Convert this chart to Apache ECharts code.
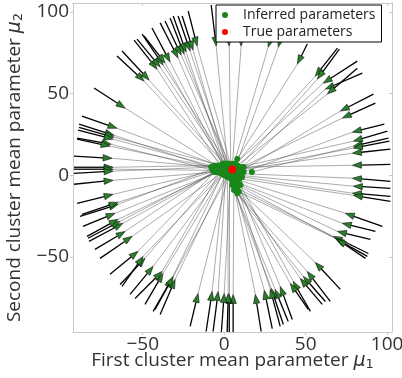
<!DOCTYPE html>
<html>
<head>
<meta charset="utf-8">
<script src="https://cdn.jsdelivr.net/npm/echarts@6/dist/echarts.min.js"></script>
<style>
  html, body { margin: 0; padding: 0; background: #fff; }
  #chart { width: 402px; height: 378px; }
</style>
</head>
<body>
<div id="chart"></div>
<script>
// starting points of the optimisation runs (tail of each black arrow)
var tails = [
  [-79.9, 53.4], [-87.3, 36.2], [-89.1, 31.3], [-89.1, 29.4], [-89.7, 27.6], [-90.3, 22.7], [-90.3, 22.1],
  [-92.2, 11.7], [-92.2, 4.9], [-92.2, 3.7], [-92.2, 1.2], [-92.2, -5.5],
  [-65.8, 73.0], [-62.7, 76.1], [-55.3, 82.8], [-53.5, 83.4], [-50.4, 86.5], [-49.2, 85.3], [-44.3, 90.2],
  [-39.3, 93.3], [-36.3, 94.5], [-33.2, 96.3], [-31.3, 97.5], [-28.3, 97.5], [-25.8, 97.5], [-22.1, 100.6],
  [-8.0, 104.3], [1.2, 104.3], [9.8, 104.3], [35.6, 104.3], [40.6, 104.3],
  [51.0, 80.4], [69.5, 77.9], [70.7, 77.3], [81.7, 69.9], [84.8, 62.6], [81.7, 65.6],
  [91.6, 49.7], [92.8, 44.2], [98.3, 31.3], [100.2, 27.0], [100.8, 22.7], [101.4, 20.9], [102.0, 16.0],
  [102.0, 6.7], [102.0, -3.7], [102.0, -8.0], [102.0, -12.9], [102.0, -16.0],
  [97.1, -31.3], [92.8, -34.4], [89.7, -39.3], [88.5, -47.9], [87.9, -49.7], [86.7, -50.9],
  [71.3, -69.9], [65.1, -77.3], [62.1, -77.3], [60.2, -79.1], [52.9, -83.4], [51.6, -82.2],
  [41.8, -88.3], [39.3, -89.6], [36.3, -91.4], [34.4, -92.6], [29.5, -93.9], [22.7, -95.7],
  [5.5, -96.9], [3.1, -96.9], [1.8, -96.9], [-1.8, -96.9], [-6.8, -95.7], [-11.1, -95.7],
  [-20.9, -92.6], [-39.3, -85.3], [-43.6, -83.4], [-42.4, -82.2], [-48.6, -79.1], [-54.7, -75.5],
  [-57.8, -73.0], [-63.9, -66.9], [-62.7, -68.1], [-70.1, -60.7], [-76.2, -50.9], [-79.3, -45.4],
  [-83.0, -40.5], [-83.6, -38.6], [-84.2, -37.4], [-86.7, -31.3], [-88.5, -25.2], [-87.3, -23.9], [-90.3, -17.2]
];

// where each arrow ends after the first step
var tips = [
  [-60.8, 41.1], [-65.8, 28.8], [-67.6, 24.5], [-67.6, 23.3], [-68.2, 22.1], [-69.4, 19.0], [-70.1, 17.8],
  [-68.8, 10.4], [-68.2, 4.9], [-68.2, 3.7], [-68.2, 2.5], [-68.2, -3.1],
  [-49.2, 57.7], [-46.1, 58.3], [-41.2, 65.0], [-39.3, 66.3], [-37.5, 67.5], [-36.3, 68.7], [-33.2, 69.3],
  [-28.3, 71.8], [-26.4, 73.6], [-24.6, 74.2], [-23.4, 75.5], [-20.9, 76.1], [-19.1, 76.7], [-16.6, 79.1],
  [-4.9, 79.1], [3.1, 79.1], [10.4, 79.1], [27.0, 78.5], [33.2, 78.5],
  [44.9, 68.1], [55.9, 60.7], [57.2, 58.9], [60.8, 56.4], [62.1, 52.8], [63.3, 49.7],
  [71.3, 39.3], [72.5, 35.0], [78.7, 26.4], [79.3, 20.9], [79.3, 17.8], [79.3, 16.6], [78.7, 13.5],
  [78.7, 6.1], [78.7, -1.8], [79.3, -6.7], [78.7, -11.0], [79.3, -12.3],
  [74.4, -23.3], [72.5, -29.4], [69.5, -34.4], [67.0, -37.4], [68.2, -38.7], [69.5, -39.3],
  [55.9, -53.4], [51.0, -58.9], [48.6, -62.0], [46.7, -63.2], [42.4, -65.0], [40.6, -66.3],
  [34.4, -68.1], [31.3, -69.9], [28.9, -69.3], [28.3, -69.9], [24.6, -70.5], [19.1, -73.0],
  [5.5, -73.0], [3.1, -73.0], [2.5, -72.4], [0, -72.4], [-3.7, -71.2], [-7.4, -71.2],
  [-16.0, -72.4], [-30.1, -63.8], [-32.0, -63.2], [-31.3, -62.0], [-37.5, -60.1], [-38.1, -58.9],
  [-43.6, -55.8], [-48.6, -50.9], [-49.8, -49.7], [-52.9, -46.6], [-56.5, -37.4], [-60.8, -34.4],
  [-62.1, -29.4], [-63.9, -28.2], [-65.1, -27.0], [-67.0, -23.3], [-65.1, -17.8], [-65.1, -16.6], [-68.2, -11.7]
];

// inferred parameters (final point of each run)
var inferred = [
  [-3, 5], [-4, 6], [-6, 4], [-2, 6], [-5, 5], [-7, 3], [-3, 4], [-8, 5], [-6, 6], [-4, 3], [-7, 5], [-5, 2],
  [-1, 6], [0, 7], [-2, 5], [1, 6], [2, 7], [0, 5], [-1, 7], [1, 4], [3, 7], [2, 6], [0, 7], [3, 5], [1, 7], [4, 6],
  [2, 7], [4, 7], [5, 6], [6, 7], [7, 5], [8, 10], [6, 6], [9, 5], [7, 7], [10, 4], [8, 6], [11, 3],
  [9, 4], [12, 2], [10, 5], [17, 2], [11, 4], [8, 3], [12, 5], [10, 1], [9, 0], [11, -1], [8, -2],
  [9, -3], [7, -4], [10, -6], [8, -8], [9, -10], [6, -5], [7, -7], [8, -11], [6, -9], [5, -3], [7, -1], [4, -2],
  [6, 0], [5, -6], [3, -1], [7, -4], [4, 1], [5, -2], [6, 2], [3, 0], [2, 1], [4, 3], [1, 2], [0, 0],
  [3, 2], [1, 0], [-1, 1], [2, -1], [0, 2], [-2, 3], [-1, 1], [-3, 2], [1, 3], [-4, 4], [-2, 1], [-5, 3],
  [-3, 3], [-6, 2], [0, 4], [-4, 2], [-7, 4], [-2, 4], [-6, 3]
];

var truth = [[5, 3.5]];

var xTicks = [-50, 0, 50, 100];
var yTicks = [-50, 0, 50, 100];

var arrowRows = tails.map(function (t, i) {
  return [t[0], t[1], tips[i][0], tips[i][1]];
});
var pathLines = tips.map(function (p, i) {
  return { coords: [p, inferred[i]] };
});

function renderArrow(params, api) {
  var p0 = api.coord([api.value(0), api.value(1)]);
  var p1 = api.coord([api.value(2), api.value(3)]);
  var dx = p1[0] - p0[0];
  var dy = p1[1] - p0[1];
  var len = Math.sqrt(dx * dx + dy * dy) || 1;
  var ux = dx / len;
  var uy = dy / len;
  var hl = 9, hw = 3.2;
  var bx = p1[0] - ux * hl;
  var by = p1[1] - uy * hl;
  return {
    type: 'group',
    children: [
      {
        type: 'line',
        shape: { x1: p0[0], y1: p0[1], x2: bx, y2: by },
        style: { stroke: '#000', lineWidth: 1.3 }
      },
      {
        type: 'polygon',
        shape: { points: [[p1[0], p1[1]], [bx - uy * hw, by + ux * hw], [bx + uy * hw, by - ux * hw]] },
        style: { fill: '#2a7f2a', stroke: '#0a0a0a', lineWidth: 0.6 }
      }
    ]
  };
}

var axisColor = '#c8c8c8';
var nameStyle = {
  fontSize: 19,
  color: '#333',
  fontFamily: 'Open Sans',
  rich: {
    m: { fontSize: 19, fontStyle: 'italic', fontFamily: 'DejaVu Sans', color: '#333' },
    s: { fontSize: 13, padding: [7, 0, 0, 0], verticalAlign: 'top', fontFamily: 'DejaVu Sans', color: '#333' }
  }
};

function makeAxis(extra) {
  var base = {
    type: 'value',
    axisLine: { show: true, onZero: false, lineStyle: { color: axisColor, width: 1 } },
    axisTick: { show: true, length: 3, lineStyle: { color: axisColor } },
    splitLine: { show: false },
    axisLabel: { show: false }
  };
  return Object.assign(base, extra);
}

var chart = echarts.init(document.getElementById('chart'));
chart.setOption({
  animation: false,
  textStyle: { fontFamily: 'Open Sans' },
  grid: { left: 73, right: 10, top: 3, bottom: 46, outerBoundsMode: 'none', containLabel: false },
  legend: {
    data: ['Inferred parameters', 'True parameters'],
    orient: 'vertical',
    left: 216,
    top: 5,
    padding: [3, 6, 3, 6],
    itemGap: 3,
    itemWidth: 26,
    itemHeight: 6,
    backgroundColor: '#fff',
    borderColor: '#000',
    borderWidth: 1,
    borderRadius: 0,
    textStyle: { fontSize: 14, color: '#222', fontFamily: 'Open Sans', padding: [0, 4, 0, 0] }
  },
  xAxis: [
    makeAxis({
      min: -92.8, max: 103, position: 'bottom',
      name: 'First cluster mean parameter {m|μ}{s|1}',
      nameLocation: 'middle', nameGap: 19, nameMoveOverlap: false, nameTextStyle: nameStyle,
      axisTick: { show: true, length: 3, customValues: xTicks, lineStyle: { color: axisColor } },
      axisLabel: { show: true, customValues: xTicks, fontSize: 19, color: '#333', margin: 3,
        formatter: function (v) { return v < 0 ? '\u2212' + Math.abs(v) : String(v); } }
    }),
    makeAxis({
      min: -92.8, max: 103, position: 'top',
      axisTick: { show: true, inside: true, length: 3, customValues: xTicks, lineStyle: { color: axisColor } }
    })
  ],
  yAxis: [
    makeAxis({
      min: -96, max: 105.5, position: 'left',
      name: 'Second cluster mean parameter {m|μ}{s|2}',
      nameLocation: 'middle', nameGap: 48, nameMoveOverlap: false, nameTextStyle: nameStyle,
      axisTick: { show: true, length: 3, customValues: yTicks, lineStyle: { color: axisColor } },
      axisLabel: { show: true, customValues: yTicks, fontSize: 19, color: '#333', margin: 4,
        formatter: function (v) { return v < 0 ? '\u2212' + Math.abs(v) : String(v); } }
    }),
    makeAxis({
      min: -96, max: 105.5, position: 'right',
      axisTick: { show: true, inside: true, length: 3, customValues: yTicks, lineStyle: { color: axisColor } }
    })
  ],
  series: [
    {
      type: 'lines',
      coordinateSystem: 'cartesian2d',
      clip: true,
      silent: true,
      lineStyle: { color: 'rgba(70,70,70,0.5)', width: 0.9, opacity: 1 },
      data: pathLines
    },
    {
      type: 'custom',
      clip: true,
      renderItem: renderArrow,
      encode: { x: [0, 2], y: [1, 3] },
      data: arrowRows
    },
    {
      name: 'Inferred parameters',
      type: 'scatter',
      symbol: 'circle',
      symbolSize: 6,
      itemStyle: { color: '#1a871a', opacity: 1 },
      data: inferred
    },
    {
      name: 'True parameters',
      type: 'scatter',
      symbol: 'circle',
      symbolSize: 8,
      itemStyle: { color: '#ff0000', opacity: 1 },
      data: truth
    }
  ]
});
</script>
</body>
</html>
